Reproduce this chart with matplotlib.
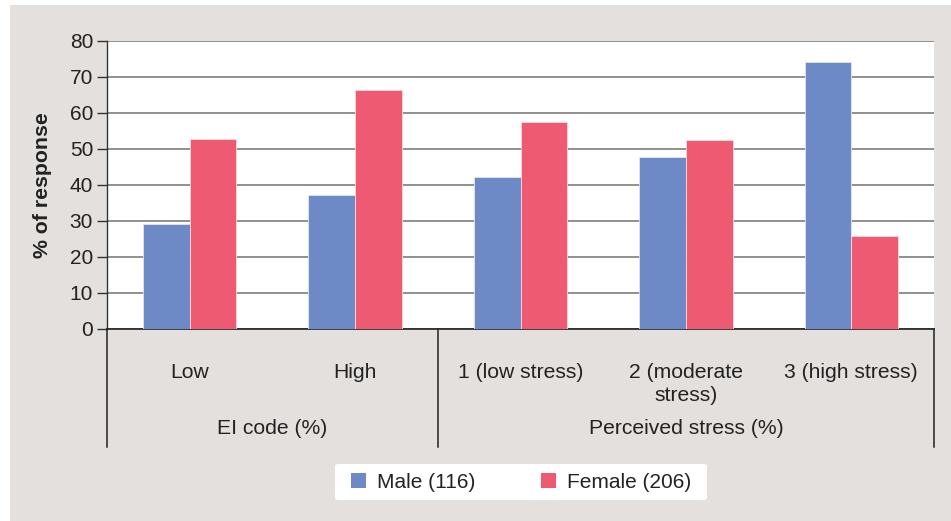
import numpy as np
import matplotlib.pyplot as plt
from matplotlib.patches import Rectangle, Patch, FancyBboxPatch

plt.rcParams['font.family'] = ['Liberation Sans', 'DejaVu Sans']

# data
categories = ['Low', 'High', '1 (low stress)', '2 (moderate\nstress)', '3 (high stress)']
groups = ['EI code (%)', 'Perceived stress (%)']
group_spans = [(0, 1), (2, 4)]
male = [29.1, 37.2, 42.2, 47.7, 74.1]
female = [52.7, 66.3, 57.4, 52.5, 25.8]
series_names = ['Male (116)', 'Female (206)']

male_color = '#6d8ac6'
female_color = '#ef5a73'
bg = '#e4e0dd'

W, H = 951, 521
fig = plt.figure(figsize=(W / 100, H / 100), dpi=100, facecolor='white')
fig.add_artist(Rectangle((10 / W, 0), 1 - 10 / W, 1 - 5 / H,
                         transform=fig.transFigure, facecolor=bg,
                         edgecolor='none', zorder=-10))

ax = fig.add_axes([107 / W, (H - 329) / H, 827 / W, 288 / H])
ax.set_facecolor('white')

x = np.arange(len(categories))
w = 0.282
ax.bar(x - w / 2, male, w, color=male_color, edgecolor='#dfe6f4', linewidth=0.6, zorder=3)
ax.bar(x + w / 2, female, w, color=female_color, edgecolor='#fbd8de', linewidth=0.6, zorder=3)

ax.set_xlim(-0.5, len(categories) - 0.5)
ax.set_ylim(0, 80)
ax.set_yticks(range(0, 81, 10))
ax.yaxis.grid(True, color='#7d7d7d', linewidth=1.2, zorder=1)
ax.set_axisbelow(True)
ax.tick_params(axis='y', length=7, width=1, color='#333333', pad=3,
               labelsize=15, labelcolor='#222222')
ax.tick_params(axis='x', bottom=False, labelbottom=False)
for s in ['top', 'right']:
    ax.spines[s].set_visible(False)
ax.spines['left'].set_color('#333333')
ax.spines['bottom'].set_color('#222222')
ax.spines['left'].set_linewidth(1)
ax.spines['bottom'].set_linewidth(1.2)
ax.set_ylabel('% of response', fontsize=15.3, fontweight='bold', labelpad=13, color='#222222')

# category axis below the plot
tr = ax.get_xaxis_transform()
y_bottom = (329 - 447) / 288
for xl in [-0.5, 1.5, len(categories) - 0.5]:
    ax.plot([xl, xl], [0, y_bottom], color='#222222', lw=1.1, transform=tr, clip_on=False)

for xi, lab in zip(x, categories):
    ax.text(xi, (329 - 363) / 288, lab, transform=tr, ha='center', va='top',
            fontsize=15.2, color='#222222', linespacing=1.28)

for (a, b), g in zip(group_spans, groups):
    ax.text((a + b) / 2, (329 - 428) / 288, g, transform=tr, ha='center', va='center',
            fontsize=15.2, color='#222222')

# legend: white box drawn separately, legend itself frameless
fig.add_artist(FancyBboxPatch((335 / W, (H - 500) / H), 372 / W, 36 / H,
                              boxstyle='round,pad=0,rounding_size=0.004',
                              transform=fig.transFigure, facecolor='white',
                              edgecolor='none', zorder=1))
handles = [Patch(facecolor=male_color, edgecolor='none'),
           Patch(facecolor=female_color, edgecolor='none')]
leg = fig.legend(handles, series_names, loc='center', bbox_to_anchor=(521 / W, (H - 482) / H),
                 ncol=2, fontsize=15, frameon=False,
                 handlelength=0.72, handleheight=0.72, handletextpad=0.53,
                 columnspacing=3.15, borderpad=0, borderaxespad=0)
leg.set_zorder(2)
for t in leg.get_texts():
    t.set_color('#222222')

fig.savefig('out.png', dpi=100, facecolor=fig.get_facecolor())
